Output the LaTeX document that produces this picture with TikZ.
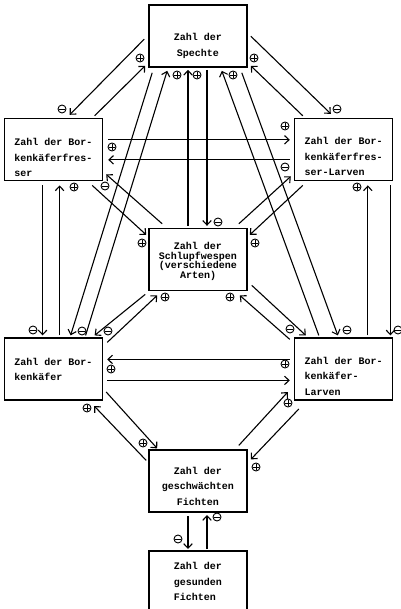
\documentclass[tikz,border=0pt]{standalone}
\usepackage{fontspec}
\setmonofont{Liberation Mono}
\usetikzlibrary{calc}
\usetikzlibrary{positioning}
\usetikzlibrary{arrows.meta}
\tikzset{
  box_node/.style = {rectangle, draw=black, line width=1.6pt, inner sep=0pt,
    minimum width=98pt, minimum height=62pt, align=center,
    font=\ttfamily\bfseries\fontsize{10}{15.5}\selectfont},
  left_box/.style = {box_node, align=left},
  tight_box/.style = {box_node, font=\ttfamily\bfseries\fontsize{10}{9.6}\selectfont},
  link/.style = {->, line width=1.1pt},
  sign_node/.style = {circle, draw=black, line width=0.9pt, minimum size=8pt,
    inner sep=0pt},
  plus_node/.style = {sign_node, path picture={
      \draw[line width=0.9pt]
        ([xshift=-2.6pt]path picture bounding box.center) -- ([xshift=2.6pt]path picture bounding box.center)
        ([yshift=-2.6pt]path picture bounding box.center) -- ([yshift=2.6pt]path picture bounding box.center);}},
  minus_node/.style = {sign_node, path picture={
      \draw[line width=0.9pt]
        ([xshift=-2.6pt]path picture bounding box.center) -- ([xshift=2.6pt]path picture bounding box.center);}}
}
\begin{document}
\begin{tikzpicture}[
    x=1pt, y=-1pt,
    >={Straight Barb[length=4.5pt,width=8.5pt]}
    ]
  \useasboundingbox (0,0) rectangle (400,609);
  % the boxes
  \node (spechte) [box_node] at (198,36) {\rule{0pt}{27pt}Zahl der\\Spechte};
  \node (fresser) [left_box, below left=50pt and 45pt of spechte]
    {\rule{0pt}{23pt}Zahl der Bor-\\kenkäferfres-\\ser};
  \node (fresser larven) [left_box, below right=50pt and 46pt of spechte]
    {\rule{0pt}{21pt}Zahl der Bor-\\kenkäferfres-\\ser-Larven};
  \node (wespen) [tight_box, below=160pt of spechte]
    {\rule{0pt}{11pt}Zahl der\\Schlupfwespen\\(verschiedene\\Arten)};
  \node (kaefer) [left_box, below=156pt of fresser] {Zahl der Bor-\\kenkäfer};
  \node (kaefer larven) [left_box, below=156pt of fresser larven]
    {\rule{0pt}{21pt}Zahl der Bor-\\kenkäfer-\\Larven};
  \node (geschwaecht) [box_node, below=158pt of wespen]
    {\rule{0pt}{17pt}Zahl der\\geschwächten\\Fichten};
  \node (gesund) [left_box, below=37pt of geschwaecht] {Zahl der\\gesunden\\Fichten};

  % Spechte
  \draw [link] ($(spechte.north west)+(-4,35)$) -- ($(fresser.north west)+(66,-3)$);
  \draw [link] ($(fresser.north west)+(91,-2)$) -- ($(spechte.south west)+(-3,-2)$);
  \draw [link] ($(spechte.north east)+(3,32)$) -- ($(fresser larven.north west)+(37,-4)$);
  \draw [link] ($(fresser larven.north west)+(9,-2)$) -- ($(spechte.south east)+(3,-2)$);
  \draw [link] ($(spechte.south west)+(4,5)$) -- ($(kaefer.north west)+(67,-2)$);
  \draw [link] ($(kaefer.north west)+(82,-2)$) -- ($(spechte.south west)+(19,3)$);
  \draw [link] ($(spechte.south east)+(-6,5)$) -- ($(kaefer larven.north west)+(44,-2)$);
  \draw [link] ($(kaefer larven.north west)+(25,-2)$) -- ($(spechte.south east)+(-26,3)$);
  \draw [link] ($(wespen.north)+(-10,-2)$) -- ($(spechte.south)+(-10,2)$);
  \draw [link] ($(spechte.south)+(9,2)$) -- ($(wespen.north)+(9,-2)$);

  % Borkenkaeferfresser and their larvae
  \draw [link] ($(fresser.south east)+(-11,4)$) -- ($(wespen.north west)+(-2,7)$);
  \draw [link] ($(wespen.north west)+(14,-4)$) -- ($(fresser.south east)+(3,-7)$);
  \draw [link] ($(wespen.north east)+(-9,-4)$) -- ($(fresser larven.south west)+(-3,-5)$);
  \draw [link] ($(fresser larven.south west)+(9,4)$) -- ($(wespen.north east)+(2,7)$);
  \draw [link] ($(fresser.north east)+(5,22)$) -- ($(fresser larven.north west)+(-4,22)$);
  \draw [link] ($(fresser larven.north west)+(-4,42)$) -- ($(fresser.north east)+(5,42)$);
  \draw [link] ($(fresser.south west)+(39,4)$) -- ($(kaefer.north west)+(39,-2)$);
  \draw [link] ($(kaefer.north west)+(56,-2)$) -- ($(fresser.south west)+(56,4)$);
  \draw [link] ($(fresser larven.south east)+(-3,4)$) -- ($(kaefer larven.north east)+(-3,-2)$);
  \draw [link] ($(kaefer larven.north west)+(74,-2)$) -- ($(fresser larven.south west)+(74,4)$);

  % Schlupfwespen and Borkenkaefer
  \draw [link] ($(wespen.south west)+(-3,3)$) -- ($(kaefer.north west)+(91,-2)$);
  \draw [link] ($(kaefer.north east)+(4,5)$) -- ($(wespen.south west)+(9,4)$);
  \draw [link] ($(wespen.south east)+(4,-6)$) -- ($(kaefer larven.north west)+(12,-2)$);
  \draw [link] ($(kaefer larven.north west)+(-4,2)$) -- ($(wespen.south east)+(-8,4)$);
  \draw [link] ($(kaefer larven.north west)+(-4,22)$) -- ($(kaefer.north east)+(4,22)$);
  \draw [link] ($(kaefer.north east)+(4,43)$) -- ($(kaefer larven.north west)+(-4,43)$);

  % Fichten
  \draw [link] ($(kaefer.south east)+(3,-9)$) -- ($(geschwaecht.north west)+(9,-1)$);
  \draw [link] ($(geschwaecht.north west)+(-2,11)$) -- ($(kaefer.south east)+(-9,5)$);
  \draw [link] ($(geschwaecht.north east)+(-9,-4)$) -- ($(kaefer larven.south west)+(-6,-9)$);
  \draw [link] ($(kaefer larven.south west)+(5,8)$) -- ($(geschwaecht.north east)+(3,10)$);
  \draw [link] ($(geschwaecht.south)+(-10,3)$) -- ($(gesund.north)+(-10,-1)$);
  \draw [link] ($(gesund.north)+(9,-1)$) -- ($(geschwaecht.south)+(9,2)$);

  % signs
  \node (s1) [minus_node] at (62,109) {};
  \node (s2) [plus_node] at (140,58) {};
  \node (s3) [minus_node] at (337,109) {};
  \node (s4) [plus_node] at (254,58) {};
  \node (s5) [plus_node] at (177,75) {};
  \node (s6) [plus_node] at (197,75) {};
  \node (s7) [plus_node] at (233,75) {};
  \node (s8) [minus_node] at (218,222) {};
  \node (s9) [plus_node] at (285,126) {};
  \node (s10) [plus_node] at (112,147) {};
  \node (s11) [minus_node] at (285,167) {};
  \node (s12) [minus_node] at (105,186) {};
  \node (s13) [plus_node] at (74,187) {};
  \node (s14) [plus_node] at (142,243) {};
  \node (s15) [plus_node] at (255,243) {};
  \node (s16) [plus_node] at (357,187) {};
  \node (s17) [minus_node] at (33,330) {};
  \node (s18) [minus_node] at (82,331) {};
  \node (s19) [minus_node] at (108,331) {};
  \node (s20) [minus_node] at (290,329) {};
  \node (s21) [minus_node] at (347,330) {};
  \node (s22) [minus_node] at (398,330) {};
  \node (s23) [plus_node] at (165,297) {};
  \node (s24) [plus_node] at (230,297) {};
  \node (s25) [plus_node] at (111,369) {};
  \node (s26) [plus_node] at (285,364) {};
  \node (s27) [plus_node] at (87,408) {};
  \node (s28) [plus_node] at (143,443) {};
  \node (s29) [plus_node] at (288,403) {};
  \node (s30) [plus_node] at (256,467) {};
  \node (s31) [minus_node] at (178,539) {};
  \node (s32) [minus_node] at (217,517) {};
\end{tikzpicture}
\end{document}
